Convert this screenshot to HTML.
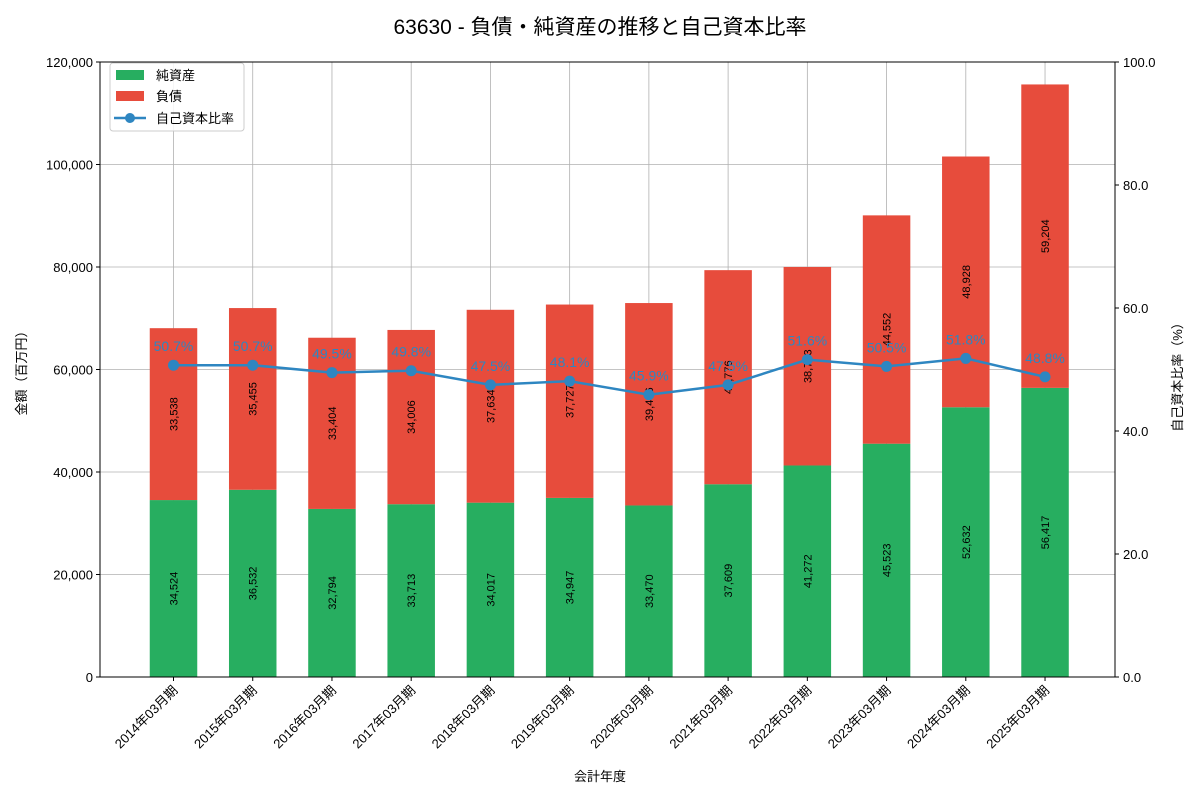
<!DOCTYPE html>
<html><head><meta charset="utf-8"><style>
body{margin:0;background:#fff;}
svg text{font-family:"Liberation Sans","Noto Sans CJK JP",sans-serif;}
</style></head><body>
<svg id="chart" width="1200" height="800" xmlns="http://www.w3.org/2000/svg">
<text x="600" y="34" text-anchor="middle" font-size="21" fill="#000">63630 - 負債・純資産の推移と自己資本比率</text>
<g id="grid"></g><g id="bars"></g><g id="line"></g><g id="axes"></g>
<g>
<rect x="110" y="63" width="134" height="68" rx="3" fill="#fff" fill-opacity="0.85" stroke="#ccc"/>
<rect x="116" y="70" width="28" height="10" fill="#27ae60"/>
<text x="156" y="80" font-size="13">純資産</text>
<rect x="116" y="91" width="28" height="10" fill="#e74c3c"/>
<text x="156" y="101" font-size="13">負債</text>
<line x1="114" y1="118" x2="146" y2="118" stroke="#2e86c1" stroke-width="2.5"/>
<circle cx="130" cy="118" r="5" fill="#2e86c1"/>
<text x="156" y="123" font-size="13">自己資本比率</text>
</g>
<text x="600" y="781" text-anchor="middle" font-size="13">会計年度</text>
<text transform="translate(26,370) rotate(-90)" text-anchor="middle" font-size="13">金額（百万円）</text>
<text transform="translate(1182,374) rotate(-90)" text-anchor="middle" font-size="13">自己資本比率（%）</text>
</svg>
<script>
const categories=["2014年03月期","2015年03月期","2016年03月期","2017年03月期","2018年03月期","2019年03月期","2020年03月期","2021年03月期","2022年03月期","2023年03月期","2024年03月期","2025年03月期"];
const equity=[34524,36532,32794,33713,34017,34947,33470,37609,41272,45523,52632,56417];
const liabilities=[33538,35455,33404,34006,37634,37727,39496,41776,38733,44552,48928,59204];
const ratio=[50.7,50.7,49.5,49.8,47.5,48.1,45.9,47.5,51.6,50.5,51.8,48.8];
const yTicks=[0,20000,40000,60000,80000,100000,120000];
const y2Ticks=[0,20,40,60,80,100];
const L=100,R=1115,T=62,B=677;
const NS="http://www.w3.org/2000/svg";
const x=i=>173.5+i*79.23;
const y=v=>B-(v/120000)*(B-T);
const y2=v=>B-(v/100)*(B-T);
const bw=47.5;
function mk(tag,attrs,parent,txt){const e=document.createElementNS(NS,tag);for(const k in attrs)e.setAttribute(k,attrs[k]);if(txt!==undefined)e.textContent=txt;document.getElementById(parent).appendChild(e);return e;}
const fmt=v=>v.toLocaleString("en-US");
yTicks.forEach(t=>{const l=mk("line",{x1:L,x2:R,y1:y(t),y2:y(t),stroke:"#b0b0b0","stroke-width":0.8},"grid");


mk("line",{x1:L-4,x2:L,y1:y(t),y2:y(t),stroke:"#000"},"axes");
const tx=mk("text",{x:L-7,y:y(t)+5,"text-anchor":"end","font-size":13},"axes",fmt(t));

});
y2Ticks.forEach(t=>{mk("line",{x1:R,x2:R+4,y1:y2(t),y2:y2(t),stroke:"#000"},"axes");
const tx=mk("text",{x:R+8,y:y2(t)+5,"font-size":13},"axes",t.toFixed(1));

});
categories.forEach((c,i)=>{const cx=x(i);
mk("line",{x1:cx,x2:cx,y1:T,y2:B,stroke:"#b0b0b0","stroke-width":0.8},"grid");
const e=mk("rect",{x:cx-bw/2,y:y(equity[i]),width:bw,height:B-y(equity[i]),fill:"#27ae60"},"bars");


const top=equity[i]+liabilities[i];
const l=mk("rect",{x:cx-bw/2,y:y(top),width:bw,height:y(equity[i])-y(top),fill:"#e74c3c"},"bars");


const ey=(y(equity[i])+B)/2;
const t1=mk("text",{transform:`translate(${cx+4},${ey}) rotate(-90)`,"text-anchor":"middle","font-size":11},"bars",fmt(equity[i]));


const ly=(y(top)+y(equity[i]))/2;
const t2=mk("text",{transform:`translate(${cx+4},${ly}) rotate(-90)`,"text-anchor":"middle","font-size":11},"bars",fmt(liabilities[i]));


mk("line",{x1:cx,x2:cx,y1:B,y2:B+4,stroke:"#000"},"axes");
const xt=mk("text",{transform:`translate(${cx+5},${B+14}) rotate(-45)`,"text-anchor":"end","font-size":13},"axes",c);

});
const pts=ratio.map((r,i)=>x(i)+","+y2(r)).join(" ");
const pl=mk("polyline",{points:pts,fill:"none",stroke:"#2e86c1","stroke-width":2.5},"line");


ratio.forEach((r,i)=>{const c=mk("circle",{cx:x(i),cy:y2(r),r:5.5,fill:"#2e86c1"},"line");


const t=mk("text",{x:x(i),y:y2(r)-14,"text-anchor":"middle","font-size":14,fill:"#2e86c1"},"line",r.toFixed(1)+"%");

});
const fr=mk("rect",{x:L,y:T,width:R-L,height:B-T,fill:"none",stroke:"#000","stroke-width":1},"axes");


</script>
</body></html>
